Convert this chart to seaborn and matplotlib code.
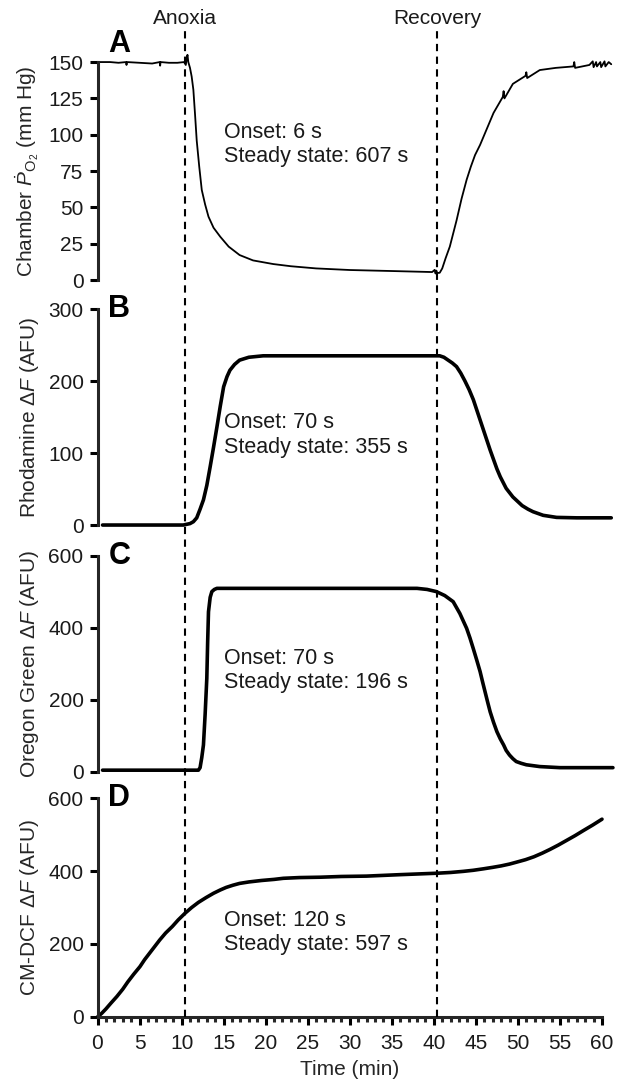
import matplotlib
matplotlib.use("Agg")
import matplotlib.pyplot as plt
import matplotlib.transforms as mtransforms
from matplotlib.lines import Line2D
from matplotlib.ticker import MultipleLocator
import seaborn as sns

# data (time in min)
t_po2 = [0.3, 1.5, 2.5, 3.4, 3.45, 3.5, 5.0, 6.5, 7.4, 7.45, 7.5, 8.5, 9.5, 10.3, 10.5, 10.6,
         10.7, 10.8, 11.0, 11.2, 11.4, 11.6, 11.8, 12.1, 12.4, 12.8, 13.2, 13.8, 14.6, 15.6,
         16.9, 18.5, 20.9, 23.0, 26.0, 30.0, 35.0, 39.8, 40.1, 40.2, 40.3, 40.4, 40.7, 41.0,
         41.4, 41.9, 42.3, 42.7, 43.3, 43.9, 44.4, 44.9, 45.5, 46.3, 47.1, 48.2, 48.3, 48.4,
         49.4, 50.9, 51.0, 51.1, 52.6, 54.5, 56.6, 56.7, 56.8, 58.5, 58.9, 59.0, 59.3, 59.4,
         59.8, 59.9, 60.3, 60.4, 60.8, 61.1]
po2 = [150, 150, 149.5, 150, 148, 150, 149.5, 149, 150, 147.5, 150, 149.5, 149.5, 150, 148, 152,
       155, 150, 146, 140, 131, 114, 96, 78, 62, 52, 43.6, 36, 29.8, 23,
       17.2, 13.5, 11, 9.5, 8, 6.9, 6.2, 5.5, 7.0, 4.5, 6.5, 4.8, 5, 8,
       15, 23, 32, 41, 56, 69, 78, 86, 93, 104, 115, 126, 130, 125,
       135, 140.5, 143, 139, 144.5, 146, 147, 150, 146, 148, 150.5, 146.5, 150, 147,
       150, 146.5, 150.5, 147, 150, 148.5]

t_rho = [0.6, 5, 10.2, 11.0, 11.4, 11.8, 12.2, 12.6, 13.0, 13.4, 13.8, 14.2, 14.6, 15.0, 15.4,
         15.75, 16.3, 16.9, 18.0, 19.7, 30, 40.7, 41.2, 41.7, 42.2, 42.7, 43.2, 43.7, 44.2, 44.7,
         45.1, 45.5, 45.9, 46.3, 46.7, 47.1, 47.5, 47.9, 48.6, 49.4, 50.5, 51.2, 51.8, 53.0, 54.6,
         57, 61.1]
rho = [0, 0, 0, 2, 4.6, 10, 22, 35, 55, 81, 108, 136, 165, 192, 206,
       215, 223, 229, 233, 235, 235, 235, 233, 229, 225, 220, 211, 200, 188, 174,
       160, 146, 132, 118, 104, 91, 78, 67, 51, 39, 27, 22, 18.5, 13.5, 10.6,
       10, 10]

t_og = [0.6, 5, 10, 12.0, 12.2, 12.4, 12.6, 12.8, 13.0, 13.1, 13.2, 13.4, 13.6, 13.9, 14.2, 20,
        30, 38.0, 39.2, 40.3, 41.3, 42.3, 43.1, 43.9, 44.3, 44.7, 45.1, 45.5, 45.8, 46.1, 46.4,
        46.7, 47.1, 47.5, 47.9, 48.3, 48.6, 49.0, 49.4, 49.8, 50.4, 51.0, 52.6, 55, 61.3]
og = [5, 5, 5, 5, 12, 40, 75, 160, 260, 360, 445, 485, 501, 507, 510, 510,
      510, 510, 507, 501, 490, 473, 440, 399, 372, 342, 311, 279, 250, 222, 194,
      167, 138, 112, 92, 75, 60, 47, 37, 29, 24, 20, 15, 12, 12]

t_dcf = [0, 0.5, 1.0, 1.6, 2.3, 3.0, 3.6, 4.3, 5.05, 5.6, 6.2, 6.8, 7.4, 8.1, 8.9, 9.6,
         10.4, 11.2, 12.0, 12.9, 13.8, 14.6, 15.3, 16.1, 16.9, 18.0, 19.5, 21.0, 22.1, 24.0,
         26.5, 29.0, 32.0, 36.0, 40.45, 42.0, 43.5, 44.7, 45.9, 47.0, 48.0, 49.0, 49.8, 50.9,
         51.9, 52.9, 53.8, 54.8, 55.8, 56.8, 57.8, 58.9, 60.0]
dcf = [0, 10, 22, 38, 56, 76, 96, 117, 138, 157, 175, 193, 211, 230, 248, 266,
       284, 300, 314, 327, 339, 348, 355, 361, 366, 370, 374, 377, 380, 382,
       383, 385, 386, 390, 394, 396, 399, 402, 406, 410, 414, 419, 424, 431,
       439, 449, 459, 471, 484, 497, 511, 526, 542]

events = [10.4, 40.4]
event_names = ["Anoxia", "Recovery"]

panels = ["A", "B", "C", "D"]
ylabels = [r"Chamber $\dot{P}_{\mathrm{O_2}}$ (mm Hg)",
           r"Rhodamine $\Delta F$ (AFU)",
           r"Oregon Green $\Delta F$ (AFU)",
           r"CM-DCF $\Delta F$ (AFU)"]
ymax = [150, 300, 600, 600]
ystep = [25, 100, 200, 200]
notes = ["Onset: 6 s\nSteady state: 607 s",
         "Onset: 70 s\nSteady state: 355 s",
         "Onset: 70 s\nSteady state: 196 s",
         "Onset: 120 s\nSteady state: 597 s"]

sns.set_style("ticks")
plt.rcParams["font.family"] = ["Liberation Sans", "DejaVu Sans"]
plt.rcParams["mathtext.fontset"] = "custom"
plt.rcParams["mathtext.rm"] = "Liberation Sans"
plt.rcParams["mathtext.it"] = "Liberation Sans:italic"
plt.rcParams["mathtext.bf"] = "Liberation Sans:bold"
plt.rcParams["font.size"] = 15
plt.rcParams["text.color"] = "#1a1a1a"

fig = plt.figure(figsize=(6.25, 10.85), dpi=100)
boxes = [[0.156, 0.7419, 0.8072, 0.2009],
         [0.156, 0.5161, 0.8072, 0.1991],
         [0.156, 0.2885, 0.8072, 0.1991],
         [0.156, 0.0627, 0.8072, 0.2018]]
axes = [fig.add_axes(b) for b in boxes]

series = [(t_po2, po2, 1.3), (t_rho, rho, 2.6), (t_og, og, 2.6), (t_dcf, dcf, 2.6)]
note_y = [0.622, 0.417, 0.47, 0.386]
letter_y = [1.085, 1.0, 1.0, 1.0]

for i, ax in enumerate(axes):
    x, y, lw = series[i]
    sns.lineplot(x=x, y=y, ax=ax, color="black", lw=lw, estimator=None, sort=False)
    for line in ax.lines:
        line.set_clip_on(False)
        line.set_solid_joinstyle("round")
    ax.set_xlim(0, 60)
    ax.set_ylim(0, ymax[i])
    ax.yaxis.set_major_locator(MultipleLocator(ystep[i]))
    ax.set_ylabel(ylabels[i], fontsize=15)
    ax.yaxis.set_label_coords(-0.112, 0.5)
    sns.despine(ax=ax, bottom=(i < 3))
    ax.spines["left"].set_linewidth(2.2)
    ax.spines["bottom"].set_linewidth(2.2)
    ax.tick_params(axis="y", length=6, width=2.2, pad=4, labelsize=15,
                   colors="black", labelcolor="#1a1a1a")
    if i < 3:
        ax.set_xticks([])
        ax.set_xlabel("")
    trans = mtransforms.blended_transform_factory(ax.transData, ax.transAxes)
    ax.text(15, note_y[i], notes[i], transform=trans, va="center", ha="left",
            fontsize=15.5, linespacing=1.2)
    ax.text(1.3, letter_y[i], panels[i], transform=trans, va="center", ha="left",
            fontsize=22, fontweight="bold", color="black")

axd = axes[3]
axd.xaxis.set_major_locator(MultipleLocator(5))
axd.xaxis.set_minor_locator(MultipleLocator(1))
axd.tick_params(axis="x", which="major", length=6, width=2.2, pad=6, labelsize=15,
                colors="black", labelcolor="#1a1a1a")
axd.tick_params(axis="x", which="minor", length=3.5, width=2.2)
axd.set_xlabel("Time (min)", fontsize=15, labelpad=5)

# event lines running through all panels
blend = mtransforms.blended_transform_factory(axd.transData, fig.transFigure)
y_top = 1 - 31 / 1085
y_bot = 1 - 1017 / 1085
for ev, name in zip(events, event_names):
    fig.add_artist(Line2D([ev, ev], [y_bot, y_top], transform=blend, color="black",
                          lw=1.5, ls=(0, (3.5, 2.6))))
    fig.text(ev, 1 - 18 / 1085, name, transform=blend, ha="center", va="center", fontsize=15)

fig.savefig("out.png", dpi=100)
